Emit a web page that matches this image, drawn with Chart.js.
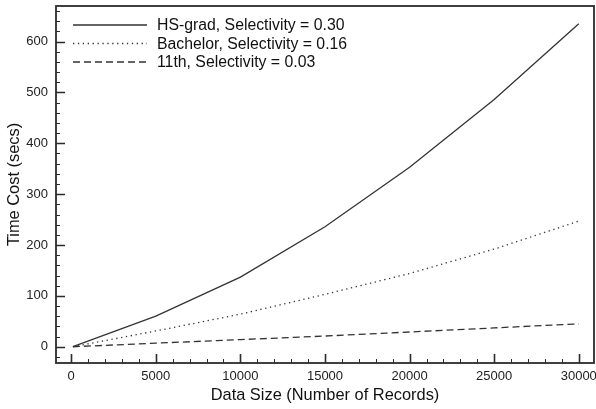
<!DOCTYPE html>
<html>
<head>
<meta charset="utf-8">
<script src="https://cdn.jsdelivr.net/npm/chart.js@4.4.1/dist/chart.umd.min.js"></script>
<style>
  html, body { margin: 0; padding: 0; background: #fff; }
  #wrap { width: 596px; height: 409px; }
</style>
</head>
<body>
<div id="wrap"><canvas id="costChart"></canvas></div>
<script>
// Data
const sizes = [100, 5000, 10000, 15000, 20000, 25000, 30000];
const hsGrad = [0, 60, 137, 236, 353, 486, 635];
const bachelor = [0, 31, 64, 103, 144, 192, 247];
const eleventh = [0, 7, 14, 21, 29, 37, 45];

const seriesNames = ['HS-grad, Selectivity = 0.30', 'Bachelor, Selectivity = 0.16', '11th, Selectivity = 0.03'];
const xTicks = [0, 5000, 10000, 15000, 20000, 25000, 30000];
const yTicks = [0, 100, 200, 300, 400, 500, 600];

const ink = '#2b2b2b';
const font = 'Liberation Sans, Arial, Helvetica, sans-serif';

function points(ys) {
    return sizes.map((x, i) => ({ x: x, y: ys[i] }));
}

// Box around the plot with inward major/minor ticks, plus the legend inside
const framePlugin = {
    id: 'frame',
    afterDraw(chart) {
        const { ctx, chartArea: a, scales } = chart;
        const xs = scales.x, ys = scales.y;
        ctx.save();
        ctx.strokeStyle = ink;

        // minor ticks
        ctx.lineWidth = 1;
        ctx.beginPath();
        for (let v = 0; v <= 30000; v += 1000) {
            if (v % 5000 === 0) continue;
            const px = Math.round(xs.getPixelForValue(v)) + 0.5;
            ctx.moveTo(px, a.bottom);
            ctx.lineTo(px, a.bottom - 4);
        }
        for (let v = -20; v <= 660; v += 20) {
            if (v % 100 === 0) continue;
            const py = Math.round(ys.getPixelForValue(v)) + 0.5;
            ctx.moveTo(a.left, py);
            ctx.lineTo(a.left + 4, py);
        }
        ctx.stroke();

        // major ticks
        ctx.lineWidth = 1.6;
        ctx.beginPath();
        xTicks.forEach(v => {
            const px = Math.round(xs.getPixelForValue(v)) + 0.5;
            ctx.moveTo(px, a.bottom);
            ctx.lineTo(px, a.bottom - 9);
        });
        yTicks.forEach(v => {
            const py = Math.round(ys.getPixelForValue(v)) + 0.5;
            ctx.moveTo(a.left, py);
            ctx.lineTo(a.left + 9, py);
        });
        ctx.stroke();

        // frame
        ctx.lineWidth = 1.8;
        ctx.strokeRect(a.left, a.top, a.right - a.left, a.bottom - a.top);

        // legend
        ctx.font = '15.8px ' + font;
        ctx.textBaseline = 'middle';
        ctx.fillStyle = '#111';
        chart.data.datasets.forEach((ds, i) => {
            const y = a.top + 19 + i * 18.5;
            ctx.beginPath();
            ctx.lineWidth = ds.borderWidth;
            ctx.strokeStyle = ds.borderColor;
            ctx.setLineDash(ds.borderDash || []);
            ctx.moveTo(a.left + 17, y);
            ctx.lineTo(a.left + 91, y);
            ctx.stroke();
            ctx.setLineDash([]);
            ctx.fillText(ds.label, a.left + 101, y + 1);
        });
        ctx.restore();
    }
};

new Chart(document.getElementById('costChart'), {
    type: 'line',
    data: {
        datasets: [
            { label: seriesNames[0], data: points(hsGrad), borderColor: '#333', borderWidth: 1.3, borderDash: [] },
            { label: seriesNames[1], data: points(bachelor), borderColor: '#333', borderWidth: 1.3, borderDash: [1.3, 3.6] },
            { label: seriesNames[2], data: points(eleventh), borderColor: '#333', borderWidth: 1.3, borderDash: [7, 4] }
        ]
    },
    options: {
        responsive: true,
        maintainAspectRatio: false,
        animation: false,
        layout: { padding: { top: 6, right: 2, left: 0, bottom: 0 } },
        elements: { point: { radius: 0 }, line: { tension: 0, fill: false } },
        plugins: { legend: { display: false }, tooltip: { enabled: false } },
        scales: {
            x: {
                type: 'linear',
                min: -900,
                max: 30900,
                grid: { display: false, drawTicks: false },
                border: { display: false },
                afterBuildTicks: s => { s.ticks = xTicks.map(v => ({ value: v })); },
                afterFit: s => { s.height = 46; s.paddingLeft = 0; s.paddingRight = 0; },
                ticks: { color: '#222', font: { family: font, size: 13 }, padding: 6, maxRotation: 0, callback: v => String(v) },
                title: { display: true, text: 'Data Size (Number of Records)', color: '#111', font: { family: font, size: 16.4 }, padding: { top: 0, bottom: 4 } }
            },
            y: {
                min: -32,
                max: 670,
                grid: { display: false, drawTicks: false },
                border: { display: false },
                afterBuildTicks: s => { s.ticks = yTicks.map(v => ({ value: v })); },
                afterFit: s => { s.width = 56; s.paddingTop = 0; s.paddingBottom = 0; },
                ticks: { color: '#222', font: { family: font, size: 13 }, padding: 8, callback: v => String(v) },
                title: { display: true, text: 'Time Cost (secs)', color: '#111', font: { family: font, size: 16.4 }, padding: { top: 5, bottom: 0 } }
            }
        }
    },
    plugins: [framePlugin]
});
</script>
</body>
</html>
